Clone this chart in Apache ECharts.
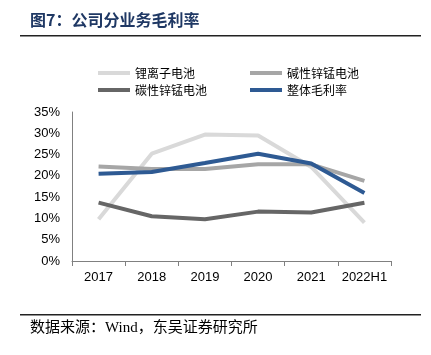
<!DOCTYPE html>
<html><head><meta charset="utf-8">
<script src="https://cdn.jsdelivr.net/npm/echarts@6/dist/echarts.min.js"></script>
<style>html,body{margin:0;padding:0;background:#fff}#c{width:431px;height:355px}</style>
</head><body><div id="c"></div>
<script>
var categories = ['2017','2018','2019','2020','2021','2022H1'];
var liIon = [9.8, 25.2, 29.7, 29.5, 22.1, 9.0];
var alkaline = [22.2, 21.6, 21.6, 22.7, 22.7, 18.8];
var carbon = [13.7, 10.5, 9.8, 11.6, 11.4, 13.7];
var overall = [20.5, 20.9, 23.0, 25.2, 22.9, 16.0];
var names = ['锂离子电池','碱性锌锰电池','碳性锌锰电池','整体毛利率'];
var colors = ['#d9d9d9','#a6a6a6','#666666','#2e5a93'];
var titleText = '图7：公司分业务毛利率';
var sourceText = '数据来源：Wind，东吴证券研究所';

var chart = echarts.init(document.getElementById('c'));
function mk(i, data){
  return {name: names[i], type:'line', data: data, symbol:'none', showSymbol:false,
    lineStyle:{width:4, color: colors[i]}, itemStyle:{color: colors[i]}, animation:false};
}
chart.setOption({
  animation:false,
  grid:{left:72, right:40, top:112, bottom:94},
  legend:[
    {left:93, top:62, orient:'vertical', itemGap:5, itemWidth:32, itemHeight:4, data:[names[0], names[2]],
     textStyle:{fontSize:12, color:'#000', fontFamily:'"Noto Sans CJK SC", sans-serif'}, icon:'rect'},
    {left:245, top:62, orient:'vertical', itemGap:5, itemWidth:32, itemHeight:4, data:[names[1], names[3]],
     textStyle:{fontSize:12, color:'#000', fontFamily:'"Noto Sans CJK SC", sans-serif'}, icon:'rect'}
  ],
  xAxis:{type:'category', data:categories, boundaryGap:true,
    axisLine:{lineStyle:{color:'#808080'}},
    axisTick:{show:true, length:5, lineStyle:{color:'#808080'}},
    axisLabel:{interval:0, fontSize:13, color:'#000', fontFamily:'"Liberation Sans", Arial, sans-serif', margin:10}},
  yAxis:{type:'value', min:0, max:35, interval:5,
    axisLine:{show:true, lineStyle:{color:'#808080'}},
    axisTick:{show:false}, splitLine:{show:false},
    axisLabel:{fontSize:13, color:'#000', fontFamily:'"Liberation Sans", Arial, sans-serif', formatter:'{value}%', margin:12}},
  series:[mk(0, liIon), mk(1, alkaline), mk(2, carbon), mk(3, overall)],
  graphic:[
    {type:'text', left:30, top:12, style:{text:titleText, fontSize:16, fontWeight:'bold', fill:'#1f3864', fontFamily:'"Noto Sans CJK SC", sans-serif'}},
    {type:'rect', shape:{x:20, y:35, width:401, height:1.5}, style:{fill:'#222'}},
    {type:'rect', shape:{x:20, y:314, width:401, height:1.5}, style:{fill:'#222'}},
    {type:'text', left:30, top:321, style:{text:sourceText, fontSize:15, fill:'#000', fontFamily:'"Liberation Serif", "Noto Sans CJK SC", serif'}}
  ]
});
</script></body></html>
